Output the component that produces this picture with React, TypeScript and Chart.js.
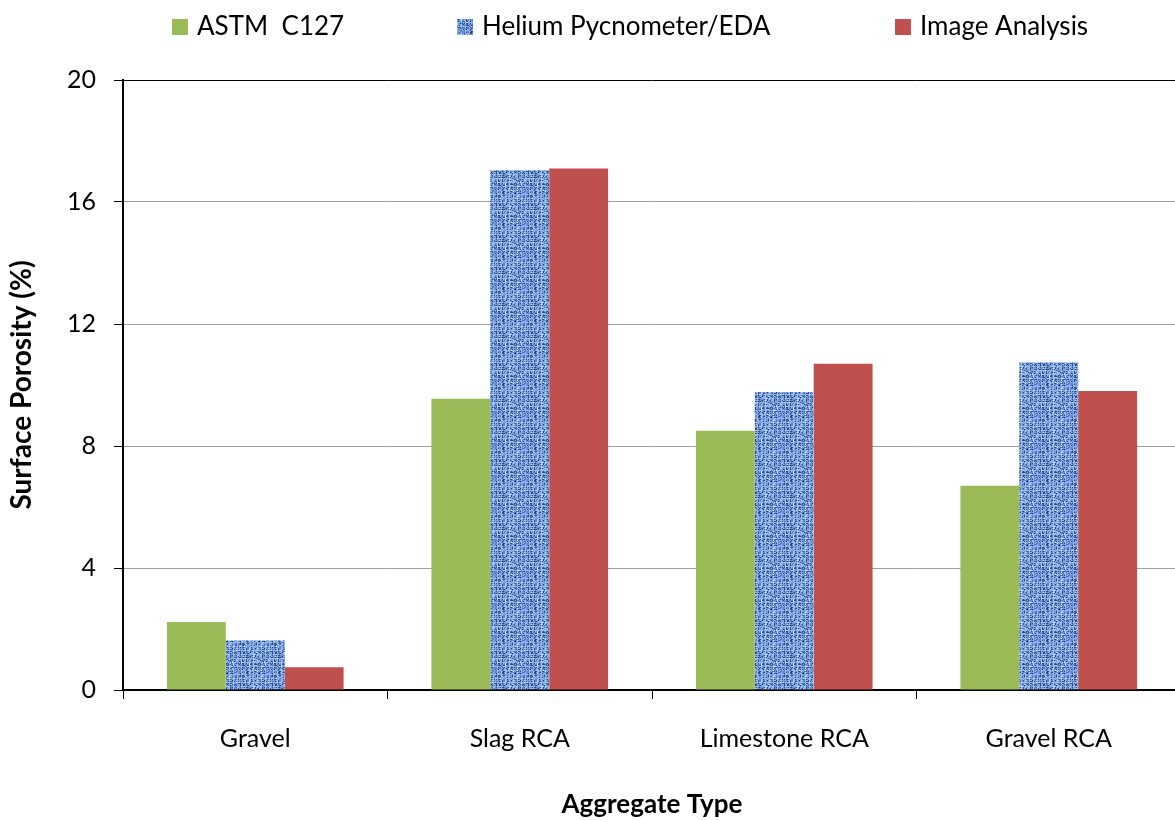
import React, { useEffect, useRef } from "react";
import { Chart, registerables } from "chart.js";

Chart.register(...registerables);

// Surface porosity (%) by aggregate type and measuring method
const categories = ["Gravel", "Slag RCA", "Limestone RCA", "Gravel RCA"];
const seriesNames = ["ASTM  C127", "Helium Pycnometer/EDA", "Image Analysis"];
const astmC127 = [2.23, 9.55, 8.5, 6.7];
const heliumEda = [1.62, 17.05, 9.77, 10.75];
const imageAnalysis = [0.75, 17.1, 10.7, 9.8];
const yTicks = [0, 4, 8, 12, 16, 20];

const GREEN = "#9BBB59";
const RED = "#C0504D";
const FONT = "Lato, 'Noto Sans', sans-serif";
// The plot area runs slightly past the visible right edge
const CANVAS_W = 1181;
const VIEW_W = 1175;
const VIEW_H = 820;

// Woven blue texture used for the Helium Pycnometer/EDA bars
function makeWeave(): CanvasPattern | string {
  const size = 32;
  const c = document.createElement("canvas");
  c.width = size;
  c.height = size;
  const g = c.getContext("2d");
  if (!g) return "#6F96D2";
  const img = g.createImageData(size, size);
  let seed = 987654;
  const next = () => {
    seed = (seed * 1103515245 + 12345) & 0x7fffffff;
    return seed / 0x7fffffff;
  };
  const dark = [42, 74, 138];
  const mid = [100, 140, 208];
  const light = [152, 187, 236];
  const pale = [196, 218, 247];
  for (let y = 0; y < size; y++) {
    for (let x = 0; x < size; x++) {
      const i = (y * size + x) * 4;
      const thread = x % 4 === 1 || y % 4 === 2;
      const n = next();
      let col;
      if (thread) col = n < 0.55 ? light : n < 0.82 ? mid : pale;
      else col = n < 0.45 ? mid : n < 0.8 ? dark : light;
      img.data[i] = col[0];
      img.data[i + 1] = col[1];
      img.data[i + 2] = col[2];
      img.data[i + 3] = 255;
    }
  }
  g.putImageData(img, 0, 0);
  return g.createPattern(c, "repeat") || "#6F96D2";
}

export default function App() {
  const canvasRef = useRef<HTMLCanvasElement | null>(null);

  useEffect(() => {
    const canvas = canvasRef.current;
    if (!canvas) return;
    const weave = makeWeave();
    const fills = [GREEN, weave, RED];
    const legendX = [172, 457, 895];

    const legendPlugin = {
      id: "topLegend",
      afterDraw(chart: Chart) {
        const ctx = chart.ctx;
        ctx.save();
        ctx.font = `26px ${FONT}`;
        ctx.textBaseline = "middle";
        ctx.textAlign = "left";
        seriesNames.forEach((name, i) => {
          const x = legendX[i];
          ctx.fillStyle = fills[i] as any;
          ctx.fillRect(x, 19, 16, 16);
          ctx.fillStyle = "#000";
          ctx.fillText(name, x + 25, 27);
        });
        ctx.restore();
      },
    };

    const chart = new Chart(canvas, {
      type: "bar",
      data: {
        labels: categories,
        datasets: [
          { label: seriesNames[0], data: astmC127, backgroundColor: GREEN },
          { label: seriesNames[1], data: heliumEda, backgroundColor: weave as any },
          { label: seriesNames[2], data: imageAnalysis, backgroundColor: RED },
        ],
      },
      options: {
        responsive: false,
        animation: false,
        layout: { padding: { top: 80, left: 0, right: 0, bottom: 0 } },
        datasets: {
          bar: { categoryPercentage: 0.668, barPercentage: 1, borderWidth: 0 },
        },
        plugins: {
          legend: { display: false },
          tooltip: { enabled: false },
        },
        scales: {
          x: {
            afterFit: (s: any) => { s.height = 130; },
            grid: {
              offset: true,
              drawOnChartArea: false,
              drawTicks: true,
              tickLength: 9,
              tickColor: "#000",
              tickWidth: 1,
            },
            border: { display: true, color: "#000", width: 2 },
            ticks: { color: "#000", font: { family: FONT, size: 25 }, padding: 25 },
            title: {
              display: true,
              text: "Aggregate Type",
              color: "#000",
              font: { family: FONT, size: 26, weight: "bold" },
              padding: { top: 0, bottom: 0 },
            },
          },
          y: {
            min: 0,
            max: 20,
            afterFit: (s: any) => { s.width = 123; },
            afterBuildTicks: (s: any) => { s.ticks = yTicks.map((v) => ({ value: v })); },
            grid: {
              color: (c: any) => (c.tick && c.tick.value === 20 ? "#000" : "#A0A0A0"),
              lineWidth: 1,
              tickLength: 9,
              tickColor: "#000",
              tickWidth: 1,
            },
            border: { display: true, color: "#000", width: 2 },
            ticks: { color: "#000", font: { family: FONT, size: 25 }, padding: 18 },
            title: {
              display: true,
              text: "Surface Porosity (%)",
              color: "#000",
              font: { family: FONT, size: 28, weight: "bold" },
              padding: { top: 5, bottom: 0 },
            },
          },
        },
      },
      plugins: [legendPlugin],
    });

    return () => chart.destroy();
  }, []);

  return (
    <div
      style={{
        position: "absolute",
        left: 0,
        top: 0,
        width: VIEW_W,
        height: VIEW_H,
        overflow: "hidden",
        background: "#fff",
      }}
    >
      <canvas ref={canvasRef} width={CANVAS_W} height={VIEW_H} style={{ display: "block" }} />
    </div>
  );
}
